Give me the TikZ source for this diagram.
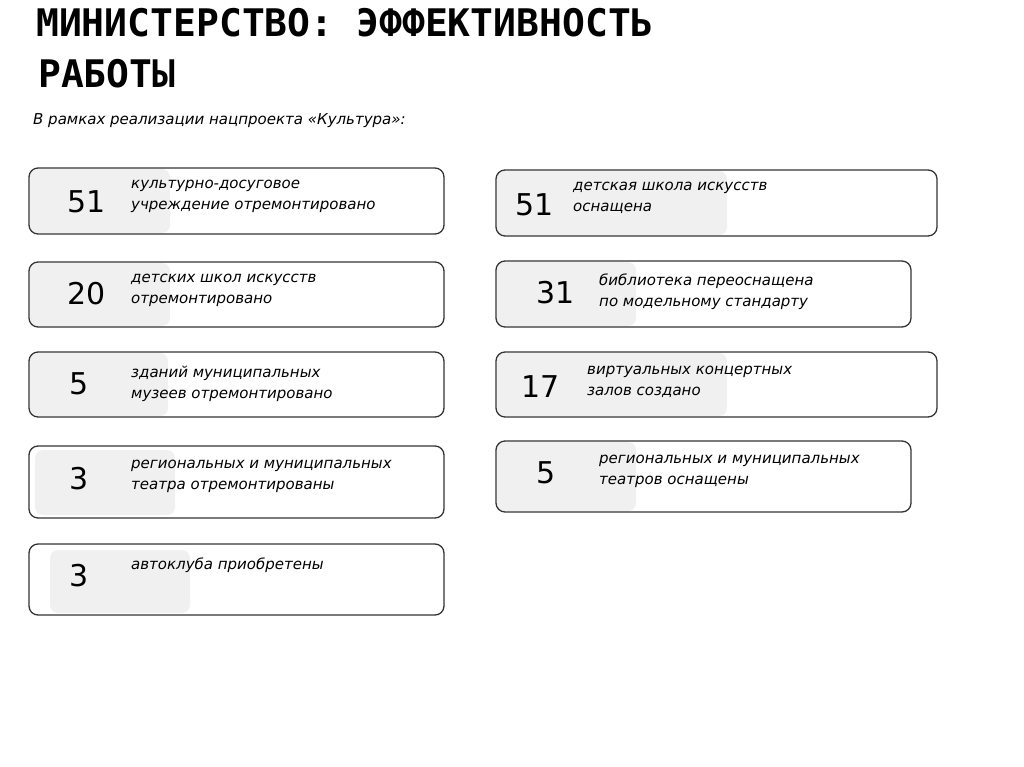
\documentclass[tikz,border=0pt]{standalone}
\usepackage{fontspec}
\setmainfont{DejaVu Sans}
\newfontfamily\titlefont{DejaVu Sans Mono}
\begin{document}
\begin{tikzpicture}[x=1pt,y=-1pt,
  card/.style={draw=black!80,line width=1.3pt,rounded corners=9pt},
  shade/.style={fill=black!6,rounded corners=8pt},
  num/.style={anchor=base west,font=\fontsize{30}{30}\selectfont},
  lbl/.style={anchor=north west,align=left,font=\itshape\fontsize{15}{21}\selectfont,inner sep=0pt}]
\useasboundingbox (0,0) rectangle (1024,767);
\node[anchor=base west,inner sep=0pt,font=\titlefont\bfseries\fontsize{38}{38}\selectfont] (t1) at (36,37) {МИНИСТЕРСТВО: ЭФФЕКТИВНОСТЬ};
\node[anchor=base west,inner sep=0pt,font=\titlefont\bfseries\fontsize{38}{38}\selectfont] (t2) at (38,88) {РАБОТЫ};
\node[anchor=base west,inner sep=0pt,font=\itshape\fontsize{15}{15}\selectfont] (sub) at (33,125) {В рамках реализации нацпроекта «Культура»:};
% left column
\fill[shade] (30,169) rectangle (170,233);
\draw[card] (29,168) rectangle (444,234);
\node[num] (n1) at (64,213) {51};
\node[lbl] (l1) at (131,180) {культурно-досуговое\\учреждение отремонтировано};
\fill[shade] (30,263) rectangle (170,326);
\draw[card] (29,262) rectangle (444,327);
\node[num] (n2) at (64,304) {20};
\node[lbl] (l2) at (131,274) {детских школ искусств\\отремонтировано};
\fill[shade] (30,353) rectangle (168,416);
\draw[card] (29,352) rectangle (444,417);
\node[num] (n3) at (66,394) {5};
\node[lbl] (l3) at (131,366) {зданий муниципальных\\музеев отремонтировано};
\fill[shade] (35,450) rectangle (175,515);
\draw[card] (29,446) rectangle (444,518);
\node[num] (n4) at (66,489) {3};
\node[lbl] (l4) at (131,460) {региональных и муниципальных\\театра отремонтированы};
\fill[shade] (50,550) rectangle (190,613);
\draw[card] (29,544) rectangle (444,615);
\node[num] (n5) at (66,586) {3};
\node[lbl] (l5) at (131,558) {автоклуба приобретены};
% right column
\fill[shade] (497,171) rectangle (727,235);
\draw[card] (496,170) rectangle (937,236);
\node[num] (r1) at (512,215) {51};
\node[lbl] (q1) at (573,182) {детская школа искусств\\оснащена};
\fill[shade] (497,262) rectangle (636,326);
\draw[card] (496,261) rectangle (911,327);
\node[num] (r2) at (533,303) {31};
\node[lbl] (q2) at (599,274) {библиотека переоснащена\\по модельному стандарту};
\fill[shade] (497,353) rectangle (727,416);
\draw[card] (496,352) rectangle (937,417);
\node[num] (r3) at (518,397) {17};
\node[lbl] (q3) at (587,366) {виртуальных концертных\\залов создано};
\fill[shade] (497,442) rectangle (636,511);
\draw[card] (496,441) rectangle (911,512);
\node[num] (r4) at (533,483) {5};
\node[lbl] (q4) at (599,455) {региональных и муниципальных\\театров оснащены};
\end{tikzpicture}
\end{document}
